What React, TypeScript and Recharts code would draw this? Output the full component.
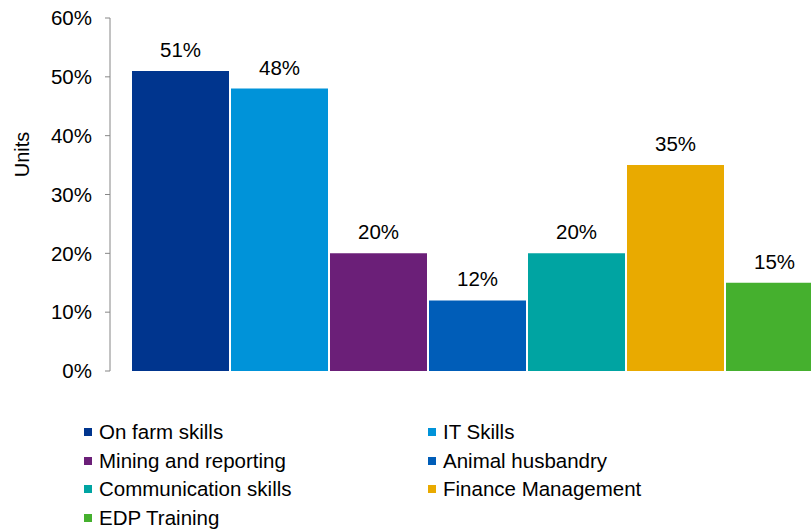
import React from 'react'
import { Bar, BarChart, LabelList, Legend, XAxis, YAxis } from 'recharts'

const SERIES = [
  'On farm skills',
  'IT Skills',
  'Mining and reporting',
  'Animal husbandry',
  'Communication skills',
  'Finance Management',
  'EDP Training',
]
const VALUES = [51, 48, 20, 12, 20, 35, 15]
const COLORS = ['#00358E', '#0093D9', '#6B1F78', '#005DB8', '#00A4A2', '#E9AA00', '#45B02E']
const Y_TICKS = [0, 10, 20, 30, 40, 50, 60]

const row: Record<string, string | number> = { name: 'Units' }
SERIES.forEach((s, i) => {
  row[s] = VALUES[i]
})
const data = [row]

const FONT = '"Liberation Sans", Arial, sans-serif'

function UnitsLabel({ viewBox }: any) {
  const x = 22
  const y = viewBox ? viewBox.y + viewBox.height / 2 - 40 : 155
  return (
    <text x={x} y={y} transform={`rotate(-90 ${x} ${y})`} textAnchor="middle" dominantBaseline="central" fontSize={20} fill="#000" fontFamily={FONT}>
      Units
    </text>
  )
}

function SkillsLegend() {
  return (
    <div style={{ display: 'grid', gridTemplateColumns: '344px 344px', paddingLeft: 84, rowGap: 4, fontFamily: FONT, fontSize: 20.5, color: '#000' }}>
      {SERIES.map((s, i) => (
        <div key={s} style={{ display: 'flex', alignItems: 'center', height: 24.5, whiteSpace: 'nowrap' }}>
          <span style={{ width: 8, height: 8, background: COLORS[i], marginRight: 7, display: 'inline-block', flex: 'none' }} />
          {s}
        </div>
      ))}
    </div>
  )
}

export default function App() {
  return (
    <div style={{ width: 811, height: 529, overflow: 'hidden', position: 'relative', background: '#fff' }}>
      <style>{'body{margin:0}'}</style>
      <BarChart
        width={850}
        height={529}
        data={data}
        margin={{ top: 18, right: 7, left: 0, bottom: 158 }}
        barCategoryGap={22}
        barGap={2}
      >
        <XAxis dataKey="name" tick={false} axisLine={false} tickLine={false} height={0} />
        <YAxis
          width={110}
          domain={[0, 60]}
          ticks={Y_TICKS}
          tickFormatter={(v) => `${v}%`}
          interval={0}
          axisLine={{ stroke: '#868686' }}
          tickLine={{ stroke: '#868686' }}
          tickSize={5}
          tickMargin={13}
          tick={{ fill: '#000', fontSize: 20.5, fontFamily: FONT }}
          label={<UnitsLabel />}
        />
        <Legend
          layout="vertical"
          align="center"
          verticalAlign="middle"
          wrapperStyle={{ left: 0, top: 420, width: 811, height: 'auto', overflow: 'visible' }}
          content={() => <SkillsLegend />}
        />
        {SERIES.map((s, i) => (
          <Bar key={s} dataKey={s} fill={COLORS[i]} isAnimationActive={false}>
            <LabelList dataKey={s} position="top" offset={14} formatter={(v: any) => `${v}%`} fill="#000" fontSize={20.5} fontFamily={FONT} />
          </Bar>
        ))}
      </BarChart>
    </div>
  )
}
